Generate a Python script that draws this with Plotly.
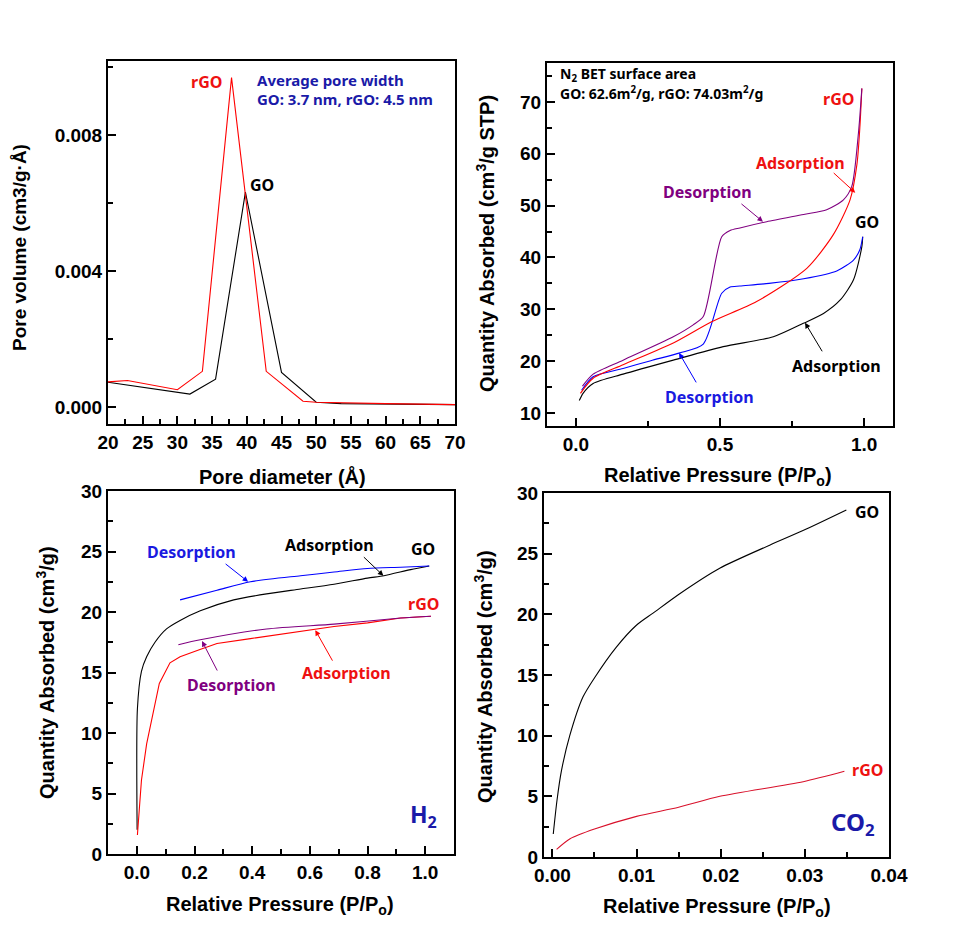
import plotly.graph_objects as go

# ---------------- DATA ----------------
# Panel (a): pore size distribution
pore_d_go = [20, 26, 31.8, 35.5, 39.8, 45.0, 50.0, 53.6, 60.1, 70]
pore_v_go = [0.00073, 0.00055, 0.00038, 0.00082, 0.00632, 0.00102, 0.00014, 0.00010, 0.00008, 0.00007]
pore_d_rgo = [20, 22.8, 30.0, 33.6, 37.8, 42.8, 48.1, 50.0, 60, 70]
pore_v_rgo = [0.00074, 0.00078, 0.00051, 0.00105, 0.00969, 0.00105, 0.00017, 0.00014, 0.00010, 0.00007]

# Panel (b): N2 isotherms
n2_go_ads_p = [0.012, 0.025, 0.06, 0.164, 0.338, 0.511, 0.685, 0.789, 0.859, 0.917, 0.963, 0.992, 0.995]
n2_go_ads_q = [12.4, 13.8, 15.7, 17.5, 20.2, 22.8, 24.7, 27.3, 29.2, 31.8, 35.7, 42.1, 44.0]
n2_go_des_p = [0.995, 0.985, 0.963, 0.905, 0.79, 0.67, 0.569, 0.535, 0.506, 0.442, 0.361, 0.26, 0.164, 0.06, 0.02]
n2_go_des_q = [44.0, 41.5, 39.5, 37.4, 35.9, 35.0, 34.5, 34.3, 33.1, 23.3, 21.6, 20.1, 18.6, 17.0, 14.4]
n2_rgo_ads_p = [0.016, 0.06, 0.164, 0.338, 0.471, 0.627, 0.801, 0.893, 0.951, 0.975, 0.985, 0.992]
n2_rgo_ads_q = [13.8, 16.7, 19.3, 23.5, 27.6, 31.5, 37.9, 44.4, 51.1, 58.0, 65.0, 72.6]
n2_rgo_des_p = [0.992, 0.98, 0.957, 0.928, 0.87, 0.79, 0.662, 0.569, 0.535, 0.506, 0.442, 0.407, 0.338, 0.164, 0.06, 0.023]
n2_rgo_des_q = [72.6, 63.9, 53.7, 51.1, 49.2, 48.3, 46.9, 45.7, 45.2, 44.0, 28.6, 27.0, 24.7, 20.2, 17.5, 15.2]

# Panel (c): H2 isotherms
h2_go_ads_p = [0.001, 0.002, 0.016, 0.034, 0.063, 0.103, 0.15, 0.22, 0.336, 0.45, 0.568, 0.684, 0.8, 0.857, 0.95, 1.014]
h2_go_ads_q = [2.0, 12.0, 15.1, 16.3, 17.5, 18.6, 19.3, 20.1, 21.0, 21.5, 21.9, 22.3, 22.8, 23.0, 23.5, 23.8]
h2_go_des_p = [1.014, 0.915, 0.8, 0.684, 0.568, 0.394, 0.278, 0.15]
h2_go_des_q = [23.8, 23.7, 23.6, 23.3, 23.0, 22.5, 21.8, 21.0]
h2_rgo_ads_p = [0.002, 0.016, 0.034, 0.051, 0.078, 0.115, 0.15, 0.219, 0.278, 0.394, 0.568, 0.684, 0.8, 0.915, 1.02]
h2_rgo_ads_q = [1.57, 6.1, 9.1, 11.1, 14.1, 15.8, 16.3, 16.9, 17.4, 17.8, 18.4, 18.8, 19.1, 19.5, 19.65]
h2_rgo_des_p = [1.02, 0.915, 0.684, 0.45, 0.22, 0.144]
h2_rgo_des_q = [19.65, 19.5, 19.0, 18.6, 17.7, 17.3]

# Panel (d): CO2 isotherms
co2_go_p = [0.0001, 0.00055, 0.00107, 0.00206, 0.00364, 0.00503, 0.0076, 0.00998, 0.01196, 0.01513, 0.01988, 0.02582, 0.02978, 0.03493]
co2_go_q = [1.9, 4.7, 7.1, 10.0, 13.2, 14.8, 17.3, 19.1, 20.1, 21.7, 23.8, 25.7, 26.9, 28.6]
co2_rgo_p = [0.0005, 0.0021, 0.005, 0.01, 0.015, 0.0199, 0.0298, 0.0347]
co2_rgo_q = [0.63, 1.5, 2.3, 3.35, 4.1, 5.0, 6.2, 7.06]

# ---------------- STYLE ----------------
OFF = 8                     # default page body margin
W, H = 963 - OFF, 941 - OFF
BLACK = "#000000"
RED = "#ff0000"
RED_T = "#ee1111"
BLUE = "#0000ff"
BLUE_T = "#1a1ae0"
PURPLE = "#800080"
DKBLUE = "#1a1aa8"
FONT = "Liberation Sans"
AFONT = "Noto Sans"

def dom_x(a, b):
    return [(a - OFF) / W, (b - OFF) / W]

def dom_y(top, bottom):
    return [1 - (bottom - OFF) / H, 1 - (top - OFF) / H]

fig = go.Figure()

def line(x, y, color, xa, ya, shape="linear", width=1.1):
    kw = dict(color=color, width=width, shape=shape)
    if shape == "spline":
        kw["smoothing"] = 0.7
    fig.add_trace(go.Scatter(x=x, y=y, mode="lines", line=kw,
                             xaxis=xa, yaxis=ya, showlegend=False, hoverinfo="skip"))

line(pore_d_go, pore_v_go, BLACK, "x", "y")
line(pore_d_rgo, pore_v_rgo, RED, "x", "y")

line(n2_go_ads_p, n2_go_ads_q, BLACK, "x2", "y2", "spline")
line(n2_go_des_p, n2_go_des_q, BLUE, "x2", "y2", "spline")
line(n2_rgo_ads_p, n2_rgo_ads_q, RED, "x2", "y2", "spline")
line(n2_rgo_des_p, n2_rgo_des_q, PURPLE, "x2", "y2", "spline")

line(h2_go_ads_p, h2_go_ads_q, BLACK, "x3", "y3", "spline")
line(h2_go_des_p, h2_go_des_q, BLUE, "x3", "y3", "spline")
line(h2_rgo_ads_p, h2_rgo_ads_q, RED, "x3", "y3")
line(h2_rgo_des_p, h2_rgo_des_q, PURPLE, "x3", "y3", "spline")

line(co2_go_p, co2_go_q, BLACK, "x4", "y4", "spline")
line(co2_rgo_p, co2_rgo_q, "#d8102a", "x4", "y4", "spline")

def axis(domain, rng, dtick, minor_dtick, fmt, anchor):
    return dict(domain=domain, range=rng, dtick=dtick, tick0=0, tickformat=fmt,
                showline=True, linewidth=2, linecolor=BLACK, mirror=True,
                ticks="inside", ticklen=8, tickwidth=2, tickcolor=BLACK,
                minor=dict(ticks="inside", ticklen=5, tickwidth=2, dtick=minor_dtick, tickcolor=BLACK),
                showgrid=False, zeroline=False, anchor=anchor, automargin=False,
                tickfont=dict(family=FONT, size=19, color=BLACK, weight="bold"))

layout = dict(
    width=W, height=H, margin=dict(l=0, r=0, t=0, b=0, autoexpand=False),
    paper_bgcolor="white", plot_bgcolor="white", showlegend=False,
    font=dict(family=FONT, color=BLACK),
    xaxis=axis(dom_x(108, 455), [20, 70], 5, 2.5, "d", "y"),
    yaxis=axis(dom_y(61, 424), [-0.0005, 0.01018], 0.004, 0.002, ".3f", "x"),
    xaxis2=axis(dom_x(547, 893), [-0.1, 1.1], 0.5, 0.25, ".1f", "y2"),
    yaxis2=axis(dom_y(63, 426), [7.5, 77.5], 10, 5, "d", "x2"),
    xaxis3=axis(dom_x(108, 454), [-0.1, 1.1], 0.2, 0.1, ".1f", "y3"),
    yaxis3=axis(dom_y(491, 854), [0, 30], 5, 2.5, "d", "x3"),
    xaxis4=axis(dom_x(544, 889), [-0.001, 0.04], 0.01, 0.005, ".2f", "y4"),
    yaxis4=axis(dom_y(493, 857), [0, 30], 5, 2.5, "d", "x4"),
)
fig.update_layout(**layout)

ann = []

def txt(x, y, s, color, size, xa, ya, xanchor="center", family=AFONT):
    ann.append(dict(x=x, y=y, xref=xa, yref=ya, text=s, showarrow=False,
                    xanchor=xanchor, yanchor="middle",
                    font=dict(family=family, size=size, color=color, weight="bold")))

def arrow(x, y, ax, ay, color, xa, ya):
    ann.append(dict(x=x, y=y, xref=xa, yref=ya, ax=ax, ay=ay, text="", showarrow=True,
                    arrowhead=2, arrowsize=1.1, arrowwidth=1, arrowcolor=color))

def title(px, py, s, angle=0, size=20):
    ann.append(dict(x=(px - OFF) / W, y=1 - (py - OFF) / H, xref="paper", yref="paper", text=s,
                    showarrow=False, textangle=angle, xanchor="center", yanchor="middle",
                    font=dict(family=FONT, size=size, color=BLACK, weight="bold")))

# Axis titles
title(282, 476, "Pore diameter (Å)")
title(20, 248, "Pore volume (cm3/g·Å)", -90, 19)
title(718, 476, "Relative Pressure (P/P<sub>o</sub>)")
title(485, 244, "Quantity Absorbed (cm<sup>3</sup>/g STP)", -90)
title(280, 905, "Relative Pressure (P/P<sub>o</sub>)")
title(45, 673, "Quantity Absorbed (cm<sup>3</sup>/g)", -90)
title(717, 907, "Relative Pressure (P/P<sub>o</sub>)")
title(483, 677, "Quantity Absorbed (cm<sup>3</sup>/g)", -90)

# Panel (a) labels
txt(34.2, 0.00957, "rGO", RED_T, 16, "x", "y")
txt(42.2, 0.00653, "GO", BLACK, 16, "x", "y")
txt(41.2, 0.00962, "Average pore width", DKBLUE, 15, "x", "y", "left")
txt(41.2, 0.00907, "GO: 3.7 nm, rGO: 4.5 nm", DKBLUE, 15, "x", "y", "left")

# Panel (b) labels
txt(-0.0625, 75.2, "N<sub>2</sub> BET surface area", BLACK, 14, "x2", "y2", "left")
txt(-0.0625, 71.8, "GO: 62.6m<sup>2</sup>/g, rGO: 74.03m<sup>2</sup>/g", BLACK, 14, "x2", "y2", "left")
txt(0.91, 70.6, "rGO", RED_T, 16, "x2", "y2")
txt(0.778, 58.3, "Adsorption", RED_T, 16, "x2", "y2")
txt(0.458, 52.7, "Desorption", PURPLE, 16, "x2", "y2")
txt(1.01, 46.9, "GO", BLACK, 16, "x2", "y2")
txt(0.903, 19.1, "Adsorption", BLACK, 16, "x2", "y2")
txt(0.465, 13.1, "Desorption", BLUE_T, 16, "x2", "y2")
arrow(0.969, 52.5, -23, -21, RED, "x2", "y2")
arrow(0.649, 46.9, -23, -19, PURPLE, "x2", "y2")
arrow(0.795, 27.4, 18, 30, BLACK, "x2", "y2")
arrow(0.358, 21.6, 18, 31, BLUE, "x2", "y2")

# Panel (c) labels
txt(0.191, 25.0, "Desorption", BLUE_T, 16, "x3", "y3")
txt(0.667, 25.5, "Adsorption", BLACK, 16, "x3", "y3")
txt(0.994, 25.2, "GO", BLACK, 16, "x3", "y3")
txt(0.994, 20.7, "rGO", RED_T, 16, "x3", "y3")
txt(0.327, 14.0, "Desorption", PURPLE, 16, "x3", "y3")
txt(0.726, 15.0, "Adsorption", RED_T, 16, "x3", "y3")
txt(0.994, 3.2, "H<sub>2</sub>", DKBLUE, 23, "x3", "y3")
arrow(0.386, 22.5, -24, -19, BLUE, "x3", "y3")
arrow(0.855, 23.0, -21, -20, BLACK, "x3", "y3")
arrow(0.226, 17.6, 16, 31, PURPLE, "x3", "y3")
arrow(0.619, 18.5, 18, 32, RED, "x3", "y3")

# Panel (d) labels
txt(0.0374, 28.4, "GO", BLACK, 16, "x4", "y4")
txt(0.0375, 7.2, "rGO", RED_T, 16, "x4", "y4")
txt(0.0357, 2.8, "CO<sub>2</sub>", DKBLUE, 24, "x4", "y4")

fig.update_layout(annotations=ann)
fig.write_html("out.html")
